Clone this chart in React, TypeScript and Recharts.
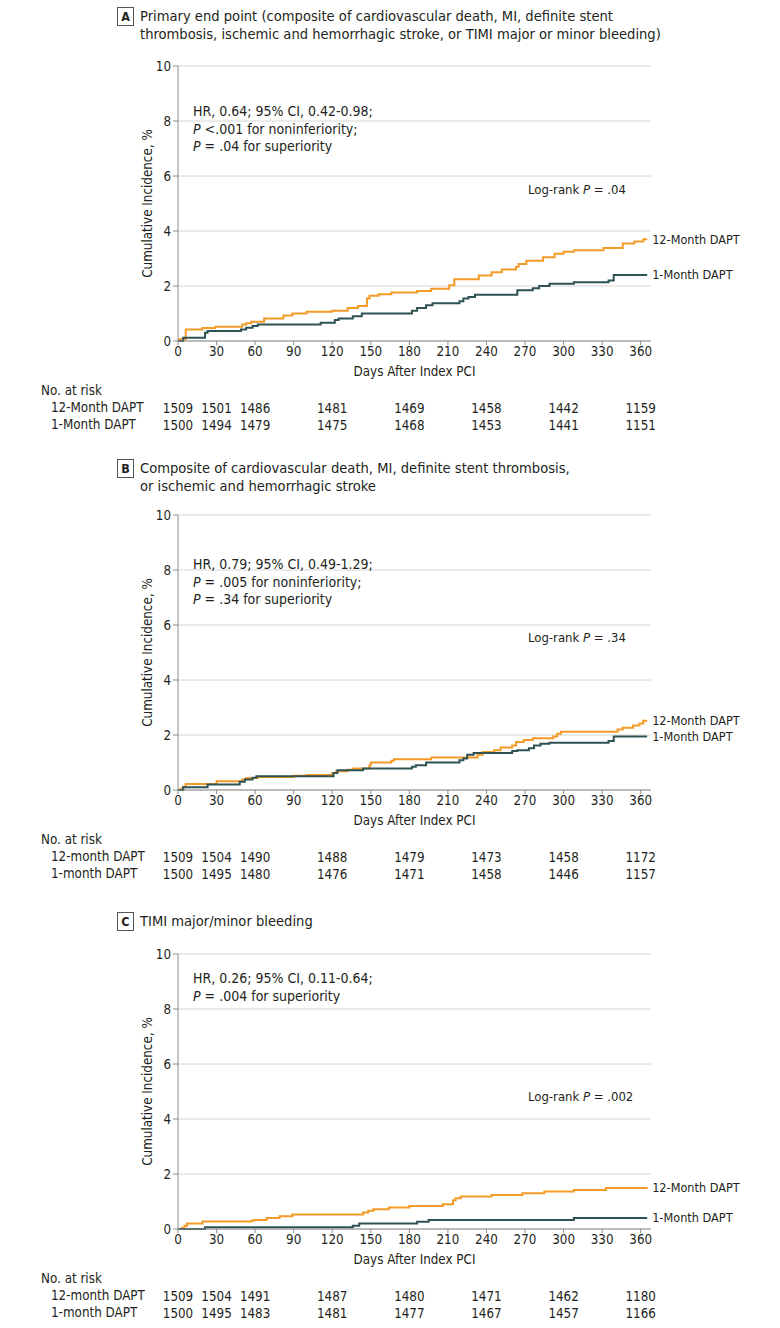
import React from 'react';
import { LineChart, Line, XAxis, YAxis, CartesianGrid } from 'recharts';

const FONT = "'Liberation Sans Narrow', 'DejaVu Sans Condensed', Roboto, sans-serif";
const FS = 13.3;
const ORANGE = '#F39B26';
const DARK = '#2F5252';
const AXIS = '#8c8c8c';
const GRID = '#d6d6d6';
const TEXT = '#231f20';

const dayTicks = [0, 30, 60, 90, 120, 150, 180, 210, 240, 270, 300, 330, 360];
const incTicks = [0, 2, 4, 6, 8, 10];
const riskDays = [0, 30, 60, 120, 180, 240, 300, 360];

// A: primary end point
const aLongDays = [0, 1, 6, 19, 29, 50, 53, 57, 67, 82, 89, 100, 120, 132, 140, 147, 149, 156, 166, 186, 197, 211, 215, 234, 244, 252, 263, 265, 271, 284, 293, 300, 308, 331, 346, 355, 362, 365];
const aLongInc = [0, 0.06, 0.42, 0.47, 0.52, 0.6, 0.65, 0.7, 0.82, 0.93, 1.0, 1.06, 1.1, 1.2, 1.27, 1.55, 1.65, 1.7, 1.76, 1.82, 1.9, 2.03, 2.25, 2.38, 2.5, 2.6, 2.7, 2.8, 2.92, 3.05, 3.17, 3.25, 3.3, 3.38, 3.55, 3.62, 3.7, 3.7];
const aShortDays = [0, 4, 21, 23, 49, 53, 58, 62, 111, 122, 125, 136, 143, 182, 186, 193, 198, 219, 222, 226, 231, 264, 276, 281, 289, 308, 335, 339, 365];
const aShortInc = [0, 0.12, 0.3, 0.36, 0.42, 0.48, 0.55, 0.6, 0.66, 0.76, 0.82, 0.9, 1.0, 1.1, 1.2, 1.3, 1.37, 1.45, 1.55, 1.6, 1.68, 1.85, 1.92, 2.0, 2.08, 2.14, 2.2, 2.4, 2.4];
const aRiskLong = [1509, 1501, 1486, 1481, 1469, 1458, 1442, 1159];
const aRiskShort = [1500, 1494, 1479, 1475, 1468, 1453, 1441, 1151];

// B: cardiovascular composite
const bLongDays = [0, 2, 4, 6, 30, 50, 53, 62, 90, 100, 120, 123, 132, 136, 149, 150, 166, 168, 197, 233, 237, 246, 251, 260, 263, 269, 276, 292, 295, 298, 342, 346, 354, 359, 362, 365];
const bLongInc = [0, 0.05, 0.12, 0.22, 0.32, 0.38, 0.44, 0.47, 0.52, 0.55, 0.62, 0.68, 0.74, 0.78, 0.9, 1.0, 1.06, 1.12, 1.18, 1.28, 1.38, 1.45, 1.55, 1.62, 1.75, 1.82, 1.88, 1.95, 2.05, 2.12, 2.2, 2.26, 2.35, 2.42, 2.52, 2.52];
const bShortDays = [0, 4, 23, 48, 52, 58, 61, 121, 124, 144, 182, 185, 193, 219, 222, 225, 230, 260, 264, 273, 277, 282, 289, 335, 339, 365];
const bShortInc = [0, 0.1, 0.2, 0.3, 0.38, 0.45, 0.5, 0.62, 0.72, 0.78, 0.85, 0.9, 1.0, 1.08, 1.15, 1.28, 1.35, 1.42, 1.45, 1.52, 1.62, 1.68, 1.72, 1.78, 1.95, 1.95];
const bRiskLong = [1509, 1504, 1490, 1488, 1479, 1473, 1458, 1172];
const bRiskShort = [1500, 1495, 1480, 1476, 1471, 1458, 1446, 1157];

// C: TIMI bleeding
const cLongDays = [0, 3, 5, 7, 19, 57, 59, 69, 79, 89, 144, 148, 152, 164, 180, 206, 214, 216, 220, 244, 268, 285, 308, 333, 365];
const cLongInc = [0, 0.05, 0.12, 0.2, 0.27, 0.3, 0.33, 0.4, 0.46, 0.53, 0.6, 0.66, 0.72, 0.78, 0.84, 0.9, 1.05, 1.12, 1.18, 1.24, 1.3, 1.36, 1.42, 1.49, 1.5];
const cShortDays = [0, 21, 136, 141, 186, 195, 308, 365];
const cShortInc = [0, 0.06, 0.12, 0.2, 0.26, 0.33, 0.4, 0.4];
const cRiskLong = [1509, 1504, 1491, 1487, 1480, 1471, 1462, 1180];
const cRiskShort = [1500, 1495, 1483, 1481, 1477, 1467, 1457, 1166];

type Seg = { t: string; i?: boolean };

const toPoints = (days: number[], inc: number[]) => days.map((d, i) => ({ d, v: inc[i] }));

const makeTick = (rows: number[][]) => (props: any) => {
  const { x, y, payload } = props;
  const i = riskDays.indexOf(payload.value);
  return (
    <g>
      <text x={x} y={y} dy="0.71em" textAnchor="middle" fontSize={FS} fontFamily={FONT} fill={TEXT}>
        {payload.value}
      </text>
      {i >= 0 &&
        rows.map((r, k) => (
          <text key={k} x={x} y={y + 61 + k * 17} dy="0.35em" textAnchor="middle" fontSize={FS} fontFamily={FONT} fill={TEXT}>
            {r[i]}
          </text>
        ))}
    </g>
  );
};

const endLabel = (text: string, last: number) => (p: any) =>
  p.index === last ? (
    <text x={p.x + 5} y={p.y} dy="0.35em" fontSize={12.6} fontFamily={FONT} fill={TEXT}>
      {text}
    </text>
  ) : (
    <g />
  );

const Line1 = ({ segs }: { segs: Seg[] }) => (
  <>
    {segs.map((s, k) => (
      <span key={k} style={{ fontStyle: s.i ? 'italic' : 'normal' }}>{s.t}</span>
    ))}
  </>
);

interface PanelProps {
  letter: string;
  titleTop: number;
  title: string[];
  plotTop: number;
  statsTop: number;
  stats: Seg[][];
  logRank: string;
  logRankTop: number;
  longDays: number[];
  longInc: number[];
  shortDays: number[];
  shortInc: number[];
  riskLong: number[];
  riskShort: number[];
  rowLabels: string[];
}

function Panel(p: PanelProps) {
  const longData = toPoints(p.longDays, p.longInc);
  const shortData = toPoints(p.shortDays, p.shortInc);
  const abs = (top: number, left: number, size = FS): React.CSSProperties => ({
    position: 'absolute',
    top: top - 9,
    left,
    lineHeight: '18px',
    fontSize: size,
    whiteSpace: 'nowrap',
  });
  return (
    <>
      <div
        style={{
          position: 'absolute',
          top: p.titleTop - 9,
          left: 117,
          width: 15,
          height: 17,
          border: '1px solid #555',
          fontWeight: 'bold',
          fontSize: 12.5,
          lineHeight: '17px',
          textAlign: 'center',
        }}
      >
        {p.letter}
      </div>
      {p.title.map((t, k) => (
        <div key={k} style={abs(p.titleTop + k * 18, 140, 14.6)}>
          {t}
        </div>
      ))}
      <div style={{ position: 'absolute', left: 0, top: p.plotTop - 10 }}>
        <LineChart width={780} height={385} margin={{ top: 10, right: 129, left: 142, bottom: 0 }}>
          <CartesianGrid vertical={false} stroke={GRID} />
          <XAxis
            type="number"
            dataKey="d"
            domain={[0, 368]}
            ticks={dayTicks}
            interval={0}
            height={100}
            tickSize={4}
            stroke={AXIS}
            tick={makeTick([p.riskLong, p.riskShort])}
            label={{ value: 'Days After Index PCI', position: 'insideTop', offset: 26, fontSize: FS, fontFamily: FONT, fill: TEXT }}
          />
          <YAxis
            type="number"
            domain={[0, 10]}
            ticks={incTicks}
            width={36}
            tickSize={5}
            stroke={AXIS}
            tick={{ fontSize: FS, fontFamily: FONT, fill: TEXT }}
            label={{
              value: 'Cumulative Incidence, %',
              angle: -90,
              position: 'insideLeft',
              offset: 5,
              style: { textAnchor: 'middle', fontSize: FS, fontFamily: FONT, fill: TEXT },
            }}
          />
          <Line
            data={longData}
            dataKey="v"
            type="stepAfter"
            stroke={ORANGE}
            strokeWidth={2}
            dot={false}
            activeDot={false}
            isAnimationActive={false}
            label={endLabel('12-Month DAPT', longData.length - 1)}
          />
          <Line
            data={shortData}
            dataKey="v"
            type="stepAfter"
            stroke={DARK}
            strokeWidth={2}
            dot={false}
            activeDot={false}
            isAnimationActive={false}
            label={endLabel('1-Month DAPT', shortData.length - 1)}
          />
        </LineChart>
      </div>
      {p.stats.map((segs, k) => (
        <div key={k} style={abs(p.statsTop + k * 17.5, 193, 14)}>
          <Line1 segs={segs} />
        </div>
      ))}
      <div style={abs(p.logRankTop, 528, 13)}>
        Log-rank <i>P</i> = {p.logRank}
      </div>
      <div style={abs(p.plotTop + 275 + 50, 41)}>No. at risk</div>
      {p.rowLabels.map((t, k) => (
        <div key={k} style={abs(p.plotTop + 275 + 67 + k * 17, 51)}>
          {t}
        </div>
      ))}
    </>
  );
}

export default function App() {
  return (
    <div
      style={{
        position: 'absolute',
        left: 0,
        top: 0,
        width: 780,
        height: 1328,
        background: '#fff',
        fontFamily: FONT,
        color: TEXT,
        overflow: 'hidden',
      }}
    >
      <Panel
        letter="A"
        titleTop={16}
        title={[
          'Primary end point (composite of cardiovascular death, MI, definite stent',
          'thrombosis, ischemic and hemorrhagic stroke, or TIMI major or minor bleeding)',
        ]}
        plotTop={66}
        statsTop={111}
        stats={[
          [{ t: 'HR, 0.64; 95% CI, 0.42-0.98;' }],
          [{ t: 'P', i: true }, { t: ' <.001 for noninferiority;' }],
          [{ t: 'P', i: true }, { t: ' = .04 for superiority' }],
        ]}
        logRank=".04"
        logRankTop={190}
        longDays={aLongDays}
        longInc={aLongInc}
        shortDays={aShortDays}
        shortInc={aShortInc}
        riskLong={aRiskLong}
        riskShort={aRiskShort}
        rowLabels={['12-Month DAPT', '1-Month DAPT']}
      />
      <Panel
        letter="B"
        titleTop={468}
        title={['Composite of cardiovascular death, MI, definite stent thrombosis,', 'or ischemic and hemorrhagic stroke']}
        plotTop={515}
        statsTop={564}
        stats={[
          [{ t: 'HR, 0.79; 95% CI, 0.49-1.29;' }],
          [{ t: 'P', i: true }, { t: ' = .005 for noninferiority;' }],
          [{ t: 'P', i: true }, { t: ' = .34 for superiority' }],
        ]}
        logRank=".34"
        logRankTop={638}
        longDays={bLongDays}
        longInc={bLongInc}
        shortDays={bShortDays}
        shortInc={bShortInc}
        riskLong={bRiskLong}
        riskShort={bRiskShort}
        rowLabels={['12-month DAPT', '1-month DAPT']}
      />
      <Panel
        letter="C"
        titleTop={921}
        title={['TIMI major/minor bleeding']}
        plotTop={954}
        statsTop={978}
        stats={[
          [{ t: 'HR, 0.26; 95% CI, 0.11-0.64;' }],
          [{ t: 'P', i: true }, { t: ' = .004 for superiority' }],
        ]}
        logRank=".002"
        logRankTop={1097}
        longDays={cLongDays}
        longInc={cLongInc}
        shortDays={cShortDays}
        shortInc={cShortInc}
        riskLong={cRiskLong}
        riskShort={cRiskShort}
        rowLabels={['12-month DAPT', '1-month DAPT']}
      />
    </div>
  );
}
